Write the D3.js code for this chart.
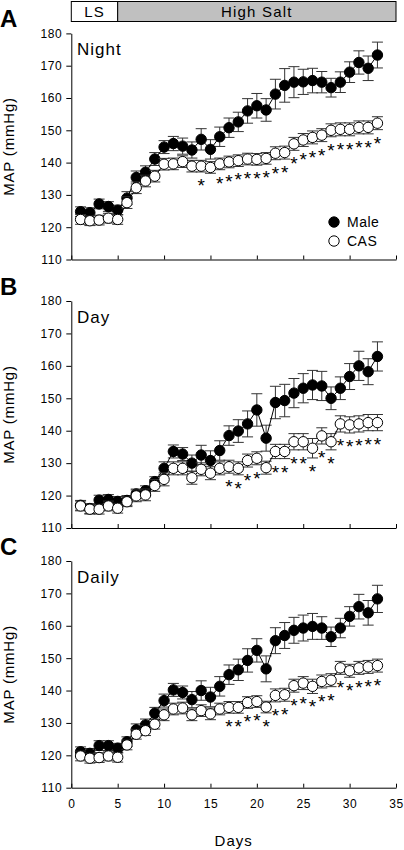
<!DOCTYPE html>
<html><head><meta charset="utf-8">
<script src="https://cdn.jsdelivr.net/npm/d3@7"></script>
<style>
body{margin:0;background:#fff;}
svg text{font-family:"Liberation Sans",Arial,Helvetica,sans-serif;fill:#000;}
</style>
</head><body>
<svg id="chart" width="404" height="850"></svg>
<script>
// ---------- data ----------
const days = [1,2,3,4,5,6,7,8,9,10,11,12,13,14,15,16,17,18,19,20,21,22,23,24,25,26,27,28,29,30,31,32,33];
const xTicks = [0,5,10,15,20,25,30,35];
const yTicks = [110,120,130,140,150,160,170,180];
const panelLetters = ["A","B","C"];
const panelTitles = ["Night","Day","Daily"];
const seriesNames = ["Male","CAS"];
const phaseLabels = ["LS","High Salt"];
const phaseBounds = [0,5,35];

const nightMale = [124.8,124.5,127.2,126.4,125.3,129.0,135.4,137.0,141.1,144.8,145.9,145.1,143.9,147.2,144.1,148.0,150.8,152.6,156.0,157.6,156.3,161.2,163.9,164.9,165.0,165.4,164.9,163.2,164.9,168.0,171.0,169.2,173.3];
const nightMaleErr = [1.5,1.5,1.5,1.5,1.5,2,2,2,2,2,2.2,2.5,2.5,3.3,3,3,3,3,3.8,3.8,3.5,4.6,5.2,4.8,3.9,3.8,3.3,2.9,3.2,3.2,3.6,3.8,4];
const nightCas = [122.4,122.0,122.2,122.8,122.4,127.6,132.2,134.3,135.8,139.5,139.6,140.3,138.9,138.9,138.5,139.6,140.2,140.6,141.1,141.0,141.3,142.9,143.1,145.8,147.0,147.8,148.5,150.0,150.3,150.3,150.9,150.9,152.2];
const nightCasErr = [1.5,1.5,1.5,1.5,1.5,1.8,1.8,1.8,1.8,1.8,1.8,1.8,1.8,1.8,1.8,1.8,1.8,1.8,1.8,1.8,1.8,2,2,2,2,2,2,2,2,2,2,2,2];
const nightSig = [14,16,17,18,19,20,21,22,23,24,25,26,27,28,29,30,31,32,33];

const dayMale = [117.0,116.0,118.6,118.8,118.2,118.5,120.5,121.5,124.3,128.4,133.6,132.8,130.0,132.5,130.8,133.9,138.5,139.9,142.1,146.4,137.7,148.7,149.3,151.6,153.1,154.1,153.8,150.0,153.1,156.7,160.0,158.2,162.9];
const dayMaleErr = [1.5,1.5,1.5,1.5,1.5,1.5,1.5,1.5,1.5,2,2,2,2.5,3,3,3,3,3.5,4,5,4,5,5,4.5,4.5,4.5,4.5,3.5,3.5,4,4.5,4,4.5];
const dayCas = [116.8,115.8,115.8,116.8,116.1,118.1,119.9,120.2,123.1,125.0,128.4,128.4,125.5,128.1,126.9,128.4,128.9,128.4,130.8,131.5,128.6,133.6,133.6,136.6,136.6,134.6,138.4,136.6,142.1,141.8,142.1,142.5,142.5];
const dayCasErr = [1.5,1.5,1.5,1.5,1.5,1.5,1.8,1.8,1.8,2,2,2,2,2,2,2,2,2,2,2,2,2.2,2.2,2.5,2.5,3,2.5,2.5,2.5,2.5,2.5,2.5,2.5];
const daySig = [17,18,19,20,22,23,24,25,26,27,28,29,30,31,32,33];

const dailyMale = [121.1,120.6,123.0,123.0,122.2,124.2,127.9,129.4,133.0,136.9,140.2,139.4,137.2,140.0,138.0,141.3,144.9,146.4,149.3,152.4,146.7,155.4,157.0,158.6,159.3,159.8,159.3,156.6,159.3,162.9,165.9,164.0,168.3];
const dailyMaleErr = [1.5,1.5,1.5,1.5,1.5,1.5,1.8,1.8,1.8,2,2,2,2.5,3,3,3,3,3.3,3.6,3.6,4,4,4,4,4,4,3.5,3,3,3,3.8,3.8,4.2];
const dailyCas = [119.8,119.1,119.3,119.8,119.4,123.2,126.5,127.6,129.6,132.5,134.3,134.6,132.5,133.8,132.8,134.3,134.8,134.8,136.3,136.6,134.9,138.5,138.7,141.5,142.3,141.3,142.8,143.2,147.0,146.1,147.0,147.3,147.7];
const dailyCasErr = [1.5,1.5,1.5,1.5,1.5,1.5,1.5,1.5,1.5,1.8,1.8,1.8,1.8,1.8,1.8,1.8,1.8,1.8,1.8,1.8,1.8,2,2,2,2,2.2,2,2,2,2,2,2,2];
const dailySig = [17,18,19,20,21,22,23,24,25,26,27,28,29,30,31,32,33];

// ---------- layout ----------
const svg = d3.select("#chart");
const xLeft = 71.3, xRight = 396;
const x = d3.scaleLinear().domain([0,35]).range([xLeft, xRight]);
const panelRanges = [[259.5,33.4],[528,301],[787.7,561]];

const panels = [
  {male: nightMale, maleErr: nightMaleErr, cas: nightCas, casErr: nightCasErr, sig: nightSig},
  {male: dayMale, maleErr: dayMaleErr, cas: dayCas, casErr: dayCasErr, sig: daySig},
  {male: dailyMale, maleErr: dailyMaleErr, cas: dailyCas, casErr: dailyCasErr, sig: dailySig}
];

// top phase bar
const bar = svg.append("g");
phaseLabels.forEach((lab, i) => {
  const x0 = x(phaseBounds[i]), x1 = x(phaseBounds[i+1]);
  bar.append("rect").attr("x", x0).attr("y", 1.5).attr("width", x1 - x0).attr("height", 20)
    .attr("fill", i === 0 ? "#fff" : "#c0c0c0").attr("stroke", "#000").attr("stroke-width", 1);
  bar.append("text").attr("x", (x0 + x1) / 2).attr("y", 17).attr("text-anchor", "middle")
    .attr("font-size", 15).attr("letter-spacing", i === 0 ? 1 : 1.2).text(lab);
});

panels.forEach((p, pi) => {
  const y = d3.scaleLinear().domain([110,180]).range(panelRanges[pi]);
  const g = svg.append("g");

  // y axis
  const ya = g.append("g").attr("transform", `translate(${xLeft},0)`)
    .call(d3.axisLeft(y).tickValues(yTicks).tickSizeInner(5).tickSizeOuter(0).tickPadding(4));
  ya.selectAll("text").attr("font-size", 12).attr("letter-spacing", 0.6).style("font-family", "'Liberation Sans',Arial,sans-serif");
  // x axis
  const xa = g.append("g").attr("transform", `translate(0,${y(110)})`)
    .call(d3.axisBottom(x).tickValues(xTicks).tickSizeInner(-4).tickSizeOuter(0).tickPadding(12));
  xa.selectAll("text").attr("font-size", 12).attr("letter-spacing", 0.6).style("font-family", "'Liberation Sans',Arial,sans-serif");
  if (pi < 2) xa.selectAll("text").remove();
  g.selectAll(".domain, .tick line").attr("stroke", "#000").attr("stroke-width", 1);

  // panel letter
  g.append("text").attr("x", 0).attr("y", y(180) - 6).attr("font-size", 24).attr("font-weight", "bold").text(panelLetters[pi]);
  // panel title
  g.append("text").attr("x", 77).attr("y", y(180) + 22).attr("font-size", 17).attr("letter-spacing", 1).text(panelTitles[pi]);
  // y label
  const ym = (panelRanges[pi][0] + panelRanges[pi][1]) / 2;
  g.append("text").attr("transform", `translate(14,${ym}) rotate(-90)`).attr("text-anchor", "middle")
    .attr("font-size", 15).attr("letter-spacing", 0.8).text("MAP (mmHg)");

  const series = [
    {vals: p.male, err: p.maleErr, fill: "#000"},
    {vals: p.cas, err: p.casErr, fill: "#fff"}
  ];
  const line = d3.line().x((d, i) => x(days[i])).y(d => y(d));
  series.forEach(s => {
    const sg = g.append("g");
    // error bars
    const eb = sg.selectAll("g.eb").data(s.vals).join("g").attr("class", "eb");
    eb.append("line").attr("x1", (d, i) => x(days[i])).attr("x2", (d, i) => x(days[i]))
      .attr("y1", (d, i) => y(d + s.err[i])).attr("y2", (d, i) => y(d - s.err[i]))
      .attr("stroke", "#333").attr("stroke-width", 1);
    [1, -1].forEach(sign => {
      eb.append("line").attr("x1", (d, i) => x(days[i]) - 5.5).attr("x2", (d, i) => x(days[i]) + 5.5)
        .attr("y1", (d, i) => y(d + sign * s.err[i])).attr("y2", (d, i) => y(d + sign * s.err[i]))
        .attr("stroke", "#333").attr("stroke-width", 1);
    });
    sg.append("path").datum(s.vals).attr("d", line).attr("fill", "none").attr("stroke", "#000").attr("stroke-width", 1);
    sg.selectAll("circle").data(s.vals).join("circle")
      .attr("cx", (d, i) => x(days[i])).attr("cy", d => y(d)).attr("r", 5.2)
      .attr("fill", s.fill).attr("stroke", "#000").attr("stroke-width", 1);
  });

  // significance asterisks
  g.selectAll("text.sig").data(p.sig).join("text").attr("class", "sig")
    .attr("x", d => x(d)).attr("y", d => y(p.cas[d - 1] - p.casErr[d - 1]) + 20)
    .attr("text-anchor", "middle").attr("font-size", 19).text("*");

  // legend (panel A only)
  if (pi === 0) {
    seriesNames.forEach((nm, i) => {
      const ly = y(121.6) - i * -19;
      g.append("circle").attr("cx", 334).attr("cy", ly).attr("r", 5.2)
        .attr("fill", i === 0 ? "#000" : "#fff").attr("stroke", "#000");
      g.append("text").attr("x", 347).attr("y", ly + 5).attr("font-size", 14).attr("letter-spacing", 0.5).text(nm);
    });
  }
});

// x axis title
svg.append("text").attr("x", (xLeft + xRight) / 2).attr("y", 846).attr("text-anchor", "middle")
  .attr("font-size", 15).attr("letter-spacing", 1).text("Days");
</script>
</body></html>
